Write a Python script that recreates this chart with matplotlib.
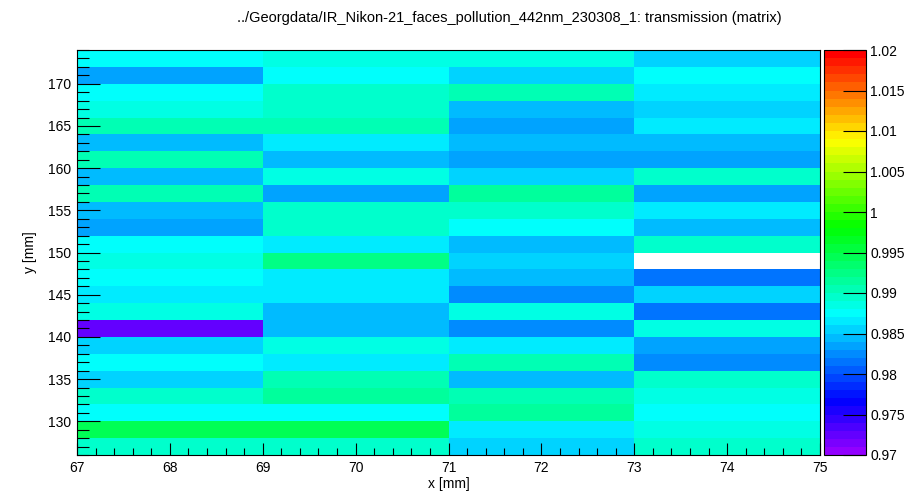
import colorsys
import numpy as np
import matplotlib
matplotlib.use("Agg")
import matplotlib.pyplot as plt
from matplotlib.colors import ListedColormap, BoundaryNorm
from matplotlib.ticker import MultipleLocator

plt.rcParams["font.family"] = ["Liberation Sans", "DejaVu Sans"]

title = "../Georgdata/IR_Nikon-21_faces_pollution_442nm_230308_1: transmission (matrix)"

x_edges = [67, 69, 71, 73, 75]
y_edges = list(range(126, 176, 2))

# transmission per cell, listed from the top row (172-174) down to the bottom row (126-128)
col_67 = [0.9875, 0.9835, 0.9875, 0.9885, 0.9905, 0.9845, 0.9905, 0.9845, 0.9905, 0.9845,
          0.9835, 0.9875, 0.9885, 0.9875, 0.9865, 0.9885, 0.9725, 0.9855, 0.9875, 0.9855,
          0.9890, 0.9875, 0.9945, 0.9895]
col_69 = [0.9885, 0.9875, 0.9895, 0.9895, 0.9905, 0.9865, 0.9840, 0.9885, 0.9835, 0.9890,
          0.9890, 0.9865, 0.9925, 0.9865, 0.9865, 0.9845, 0.9845, 0.9885, 0.9865, 0.9905,
          0.9910, 0.9875, 0.9945, 0.9895]
col_71 = [0.9885, 0.9855, 0.9905, 0.9845, 0.9835, 0.9845, 0.9835, 0.9855, 0.9910, 0.9895,
          0.9875, 0.9845, 0.9855, 0.9845, 0.9825, 0.9885, 0.9825, 0.9865, 0.9905, 0.9845,
          0.9905, 0.9915, 0.9865, 0.9855]
col_73 = [0.9855, 0.9875, 0.9865, 0.9855, 0.9865, 0.9845, 0.9835, 0.9890, 0.9835, 0.9865,
          0.9845, 0.9895, np.nan, 0.9810, 0.9855, 0.9810, 0.9880, 0.9835, 0.9825, 0.9890,
          0.9885, 0.9875, 0.9885, 0.9895]

z = np.array([col_67, col_69, col_71, col_73]).T[::-1]
z = np.ma.masked_invalid(z)

# ROOT "pretty" palette: 50 colours, hue from violet down to red
zmin, zmax, ncol = 0.97, 1.02, 50
colors = [colorsys.hls_to_rgb((280 - (i + 1) * 280 / ncol) / 360, 0.5, 1.0) for i in range(ncol)]
cmap = ListedColormap(colors)
cmap.set_bad("white")
norm = BoundaryNorm(np.linspace(zmin, zmax, ncol + 1), ncol)

fig = plt.figure(figsize=(9.16, 4.92), dpi=100)
ax = fig.add_axes([77 / 916, 1 - 455 / 492, 743 / 916, 405 / 492])
cax = fig.add_axes([824 / 916, 1 - 455 / 492, 42 / 916, 405 / 492])

mesh = ax.pcolormesh(x_edges, y_edges, z, cmap=cmap, norm=norm)
ax.set_xlim(67, 75)
ax.set_ylim(126, 174)

ax.xaxis.set_major_locator(MultipleLocator(1))
ax.xaxis.set_minor_locator(MultipleLocator(0.2))
ax.yaxis.set_major_locator(MultipleLocator(5))
ax.yaxis.set_minor_locator(MultipleLocator(1))
ax.tick_params(axis="x", which="major", direction="in", length=8.6, width=0.8, labelsize=10, pad=4)
ax.tick_params(axis="x", which="minor", direction="in", length=5, width=0.8)
ax.tick_params(axis="y", which="major", direction="in", length=16.5, width=0.8, labelsize=10, pad=4)
ax.tick_params(axis="y", which="minor", direction="in", length=8.6, width=0.8)
for s in ax.spines.values():
    s.set_linewidth(0.8)

ax.set_xlabel("x [mm]", fontsize=10, labelpad=2)
ax.set_ylabel("y [mm]", fontsize=10, labelpad=8)
fig.text(509 / 916, 1 - 18 / 492, title, ha="center", va="center", fontsize=10.5)

cb = fig.colorbar(mesh, cax=cax)
cb.outline.set_linewidth(0.8)
ticks = np.arange(0.97, 1.0201, 0.005)
cb.set_ticks(ticks)
cb.set_ticklabels(["%g" % round(t, 3) for t in ticks])
cb.ax.minorticks_off()
cb.ax.tick_params(direction="in", length=16.5, width=0.8, labelsize=10, pad=3)

fig.savefig("out.png", dpi=100)
